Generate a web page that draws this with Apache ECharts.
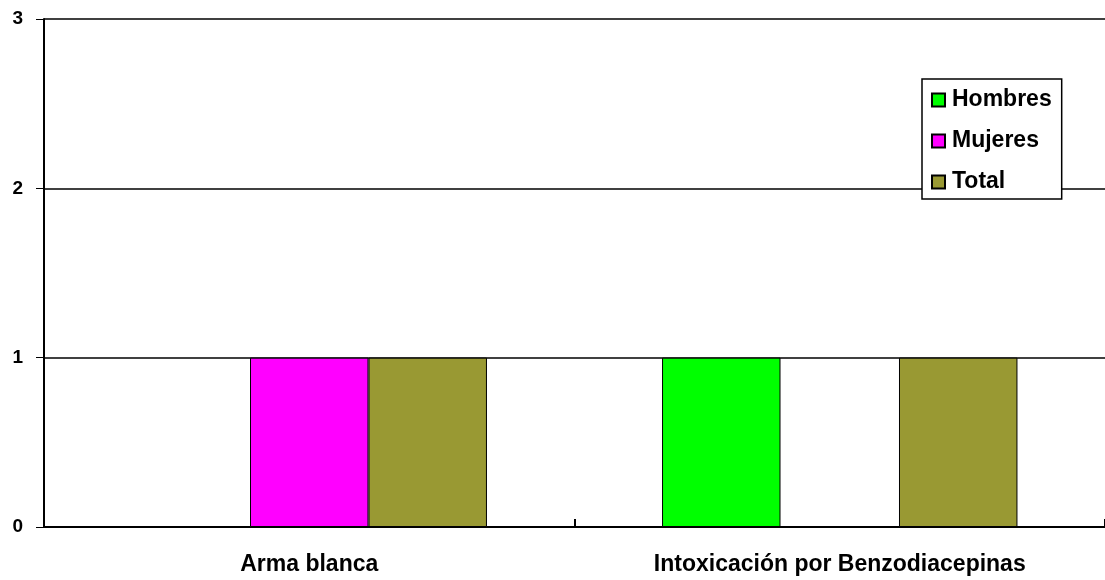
<!DOCTYPE html>
<html>
<head>
<meta charset="utf-8">
<script src="https://cdn.jsdelivr.net/npm/echarts@6/dist/echarts.min.js"></script>
<style>
html,body{margin:0;padding:0;background:#fff;}
#c{width:1105px;height:580px;}
</style>
</head>
<body>
<div id="c"></div>
<script>
var categories = ["Arma blanca", "Intoxicación por Benzodiacepinas"];
var hombres = [0, 1];
var mujeres = [1, 0];
var total = [1, 1];
var yTicks = [0, 1, 2, 3];

var chart = echarts.init(document.getElementById('c'));
var font = 'Liberation Sans, Arial, sans-serif';
function bar(name, data, color) {
  return {
    name: name, type: 'bar', data: data,
    barGap: '0%', barCategoryGap: '33%',
    itemStyle: { color: color, borderColor: '#000', borderWidth: 1 }
  };
}
chart.setOption({
  animation: false,
  backgroundColor: '#fff',
  grid: { left: 44, right: 0, top: 19, bottom: 53, containLabel: false },
  legend: {
    orient: 'vertical',
    left: 922, top: 79,
    padding: [9, 10, 5, 9],
    backgroundColor: '#fff',
    borderColor: '#000', borderWidth: 1.5,
    itemWidth: 13, itemHeight: 13, itemGap: 17,
    icon: 'rect',
    textStyle: { fontFamily: font, fontWeight: 'bold', fontSize: 23, color: '#000', lineHeight: 24, padding: [0,0,0,2] },
    data: ['Hombres', 'Mujeres', 'Total']
  },
  xAxis: {
    type: 'category', data: categories,
    axisLine: { lineStyle: { color: '#000', width: 2 } },
    axisTick: { show: true, inside: true, length: 8, lineStyle: { color: '#000', width: 2 } },
    axisLabel: { fontFamily: font, fontWeight: 'bold', fontSize: 23, color: '#000', margin: 26 }
  },
  yAxis: {
    type: 'value', min: 0, max: 3, interval: 1,
    axisLine: { show: true, lineStyle: { color: '#000', width: 2 } },
    axisTick: { show: true, inside: false, length: 8, lineStyle: { color: '#000', width: 1 } },
    axisLabel: { fontFamily: font, fontWeight: 'bold', fontSize: 19, color: '#000', margin: 21,
      formatter: function (v) { return yTicks.indexOf(v) >= 0 ? String(v) : ''; } },
    splitLine: { show: true, lineStyle: { color: '#000', width: 1.5 } }
  },
  series: [
    bar('Hombres', hombres, '#00FF00'),
    bar('Mujeres', mujeres, '#FF00FF'),
    bar('Total', total, '#999933')
  ]
});
</script>
</body>
</html>
